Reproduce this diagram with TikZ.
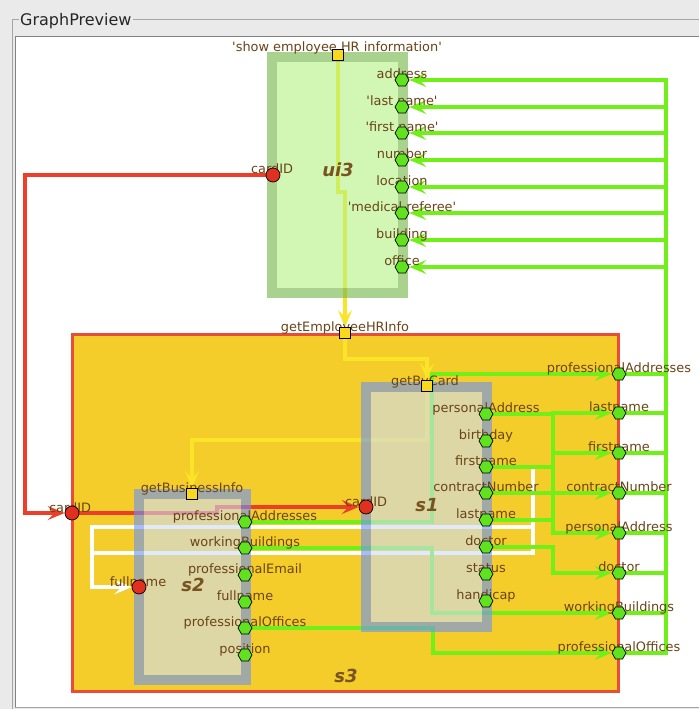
\documentclass[tikz,border=0pt]{standalone}
\usepackage{fontspec}
\usetikzlibrary{shapes.geometric,arrows.meta}
\newfontfamily\lblfont{DejaVu Sans}
\newcommand\sq{\textquotesingle}
\pgfdeclarelayer{bg}
\pgfdeclarelayer{conn}
\pgfdeclarelayer{boxes}
\pgfdeclarelayer{lbl}
\pgfsetlayers{bg,conn,boxes,lbl,main}
\definecolor{winbg}{RGB}{234,234,234}
\definecolor{framec}{RGB}{165,165,165}
\definecolor{panelline}{RGB}{130,130,130}
\definecolor{lblbrown}{RGB}{106,68,24}
\definecolor{namebrown}{RGB}{120,84,34}
\definecolor{lgreen}{RGB}{112,240,24}
\definecolor{portgreen}{RGB}{96,226,30}
\definecolor{lred}{RGB}{236,62,40}
\definecolor{portred}{RGB}{226,48,32}
\definecolor{lyellow}{RGB}{250,228,40}
\definecolor{portyellow}{RGB}{250,216,30}
\definecolor{sthree}{RGB}{245,205,42}
\definecolor{sthreeborder}{RGB}{234,76,56}
\definecolor{uifill}{RGB}{180,243,130}
\definecolor{uiborder}{RGB}{113,180,67}
\definecolor{sfill}{RGB}{205,220,248}
\definecolor{sborder}{RGB}{105,145,250}
\tikzset{
  lbl/.style={font=\lblfont\fontsize{12.9}{15}\selectfont, text=lblbrown, inner sep=0pt, text height=9.5pt, text depth=2.8pt},
  boxname/.style={font=\lblfont\bfseries\itshape\fontsize{18}{20}\selectfont, text=namebrown, inner sep=0pt},
  titletext/.style={font=\lblfont\fontsize{16}{18}\selectfont, text=black!85, inner sep=1pt, fill=winbg, anchor=base west},
  hexport/.style={regular polygon, regular polygon sides=6, minimum size=14pt, inner sep=0pt, draw=black, line width=0.7pt, fill=portgreen},
  redport/.style={circle, minimum size=14pt, inner sep=0pt, draw=black, line width=0.7pt, fill=portred},
  sqport/.style={rectangle, minimum size=11pt, inner sep=0pt, draw=black, line width=0.7pt, fill=portyellow},
  arrowend/.style={-{Stealth[length=17pt,width=14pt,inset=7pt]}},
  gconn/.style={draw=lgreen, line width=4pt, arrowend},
  rconn/.style={draw=lred, line width=4pt, arrowend},
  yconn/.style={draw=lyellow, line width=3.5pt, arrowend},
  wconn/.style={draw=white, line width=3.5pt, arrowend},
  ring/.style={draw=#1, draw opacity=0.6, line width=10pt, inner sep=0pt},
  infill/.style={fill=#1, fill opacity=0.6, draw=none, inner sep=0pt},
}
\begin{document}
\begin{tikzpicture}[x=1pt,y=-1pt]
\useasboundingbox (0,0) rectangle (699,709);
\begin{pgfonlayer}{bg}
  \fill[winbg] (0,0) rectangle (699,709);
  \draw[framec, line width=1pt] (12,709) -- (12,20) -- (699,20);
  \node[titletext] (title) at (19,26) {GraphPreview};
  \fill[white] (15,37) rectangle (699,707);
  \draw[panelline, line width=1pt] (15,707) -- (15,37) -- (699,37);
  \draw[framec, line width=1pt] (15,707.5) -- (699,707.5);
  \node[draw=sthreeborder, line width=3pt, fill=sthree, minimum width=546pt, minimum height=357pt, inner sep=0pt] (s3) at (345.5,513) {};
\end{pgfonlayer}

\begin{pgfonlayer}{boxes}
  \node[ring=uiborder, minimum width=131pt, minimum height=236pt] (ui3) at (337.5,175) {};
  \node[infill=uifill, minimum width=121pt, minimum height=226pt] (ui3-in) at (337.5,175) {};
  \node[ring=sborder, minimum width=121pt, minimum height=240pt] (s1) at (426.5,507) {};
  \node[infill=sfill, minimum width=111pt, minimum height=230pt] (s1-in) at (426.5,507) {};
  \node[ring=sborder, minimum width=107pt, minimum height=186pt] (s2) at (192.5,587) {};
  \node[infill=sfill, minimum width=97pt, minimum height=176pt] (s2-in) at (192.5,587) {};
\end{pgfonlayer}

% ---- ports and their labels
\begin{pgfonlayer}{lbl}
  \node[lbl] (ui3-show-l) at (337,48) {\sq show employee HR information\sq};
  \node[lbl] (ui3-cardID-l) at (272,170) {cardID};
  \node[lbl] (s3-get-l) at (345,328) {getEmployeeHRInfo};
  \node[lbl] (s3-cardID-l) at (70,509) {cardID};
  \node[lbl] (s1-get-l) at (425,382) {getByCard};
  \node[lbl] (s1-cardID-l) at (366,503) {cardID};
  \node[lbl] (s2-get-l) at (192,489) {getBusinessInfo};
  \node[lbl] (s2-fullname-l) at (138,583) {fullname};
\end{pgfonlayer}
\node[sqport] (ui3-show) at (338,55) {};
\node[redport] (ui3-cardID) at (273,175) {};
\node[sqport] (s3-get) at (345,333) {};
\node[redport] (s3-cardID) at (72,513) {};
\node[sqport] (s1-get) at (427,386) {};
\node[redport] (s1-cardID) at (366,507) {};
\node[sqport] (s2-get) at (192,494) {};
\node[redport] (s2-fullname) at (139,587) {};

\foreach \n/\y/\t in {address/80/address, lastname/107/{\sq last name\sq}, firstname/133/{\sq first name\sq}, number/160/number, location/187/location, medical/213/{\sq medical referee\sq}, building/240/building, office/267/office}{
  \begin{pgfonlayer}{lbl}\node[lbl] (ui3-\n-l) at (402,\y-5) {\t};\end{pgfonlayer}
  \node[hexport] (ui3-\n) at (402,\y) {};
}
\foreach \n/\y/\t in {pa/374/professionalAddresses, ln/413/lastname, fn/453/firstname, cn/493/contractNumber, pad/533/personalAddress, dr/573/doctor, wb/613/workingBuildings, po/653/professionalOffices}{
  \begin{pgfonlayer}{lbl}\node[lbl] (s3-\n-l) at (619,\y-5) {\t};\end{pgfonlayer}
  \node[hexport] (s3-\n) at (619,\y) {};
}
\foreach \n/\y/\t in {pa/414/personalAddress, bd/441/birthday, fn/467/firstname, cn/493/contractNumber, ln/520/lastname, dr/547/doctor, st/574/status, hc/601/handicap}{
  \begin{pgfonlayer}{lbl}\node[lbl] (s1-\n-l) at (486,\y-5) {\t};\end{pgfonlayer}
  \node[hexport] (s1-\n) at (486,\y) {};
}
\foreach \n/\y/\t in {pa/522/professionalAddresses, wb/548/workingBuildings, pe/575/professionalEmail, fn/602/fullname, po/628/professionalOffices, pos/655/position}{
  \begin{pgfonlayer}{lbl}\node[lbl] (s2-\n-l) at (245,\y-5) {\t};\end{pgfonlayer}
  \node[hexport] (s2-\n) at (245,\y) {};
}

% ---- box names
\node[boxname] (ui3-name) at (338,170) {ui3};
\node[boxname] (s1-name) at (427,505) {s1};
\node[boxname] (s2-name) at (193,585) {s2};
\node[boxname] (s3-name) at (346,676) {s3};

% ---- connectors
\begin{pgfonlayer}{conn}
  % red
  \draw[rconn] (ui3-cardID) -| (25,513) -- (s3-cardID);
  \draw[rconn] (s3-cardID) -- (217,513) -- (217,507) -- (s1-cardID);
  % yellow
  \draw[yconn] (ui3-show) -- (338,192) -- (345,192) -- (s3-get);
  \draw[yconn] (s3-get) -- (345,359) -- (427,359) -- (s1-get);
  \draw[yconn] (s3-get) -- (345,359) -- (427,359) -- (427,440) -- (192,440) -- (s2-get);
  % white
  \draw[wconn] (s1-fn) -- (533,467) -- (533,553) -- (92,553) -- (92,587) -- (s2-fullname);
  \draw[wconn] (s1-ln) -- (533,520) -- (533,527) -- (92,527) -- (92,587) -- (s2-fullname);
  % green: s2 -> s3
  \draw[gconn] (s2-pa) -- (432,522) -- (432,374) -- (s3-pa);
  \draw[gconn] (s2-wb) -- (432,548) -- (432,613) -- (s3-wb);
  \draw[gconn] (s2-po) -- (433,628) -- (433,653) -- (s3-po);
  % green: s1 -> s3
  \draw[gconn] (s1-pa) -- (553,414) -- (553,533) -- (s3-pad);
  \draw[gconn] (s1-fn) -- (553,467) -- (553,453) -- (s3-fn);
  \draw[gconn] (s1-cn) -- (s3-cn);
  \draw[gconn] (s1-ln) -- (553,520) -- (553,413) -- (s3-ln);
  \draw[gconn] (s1-dr) -- (553,547) -- (553,573) -- (s3-dr);
  % green: s3 -> ui3 through the bus
  \foreach \s/\t/\ty in {pa/address/80, ln/lastname/107, fn/firstname/133, cn/number/160, pad/location/187, dr/medical/213, wb/building/240, po/office/267}{
    \draw[gconn] (s3-\s) -| (666,\ty) -- (ui3-\t);
  }
\end{pgfonlayer}
\end{tikzpicture}
\end{document}
